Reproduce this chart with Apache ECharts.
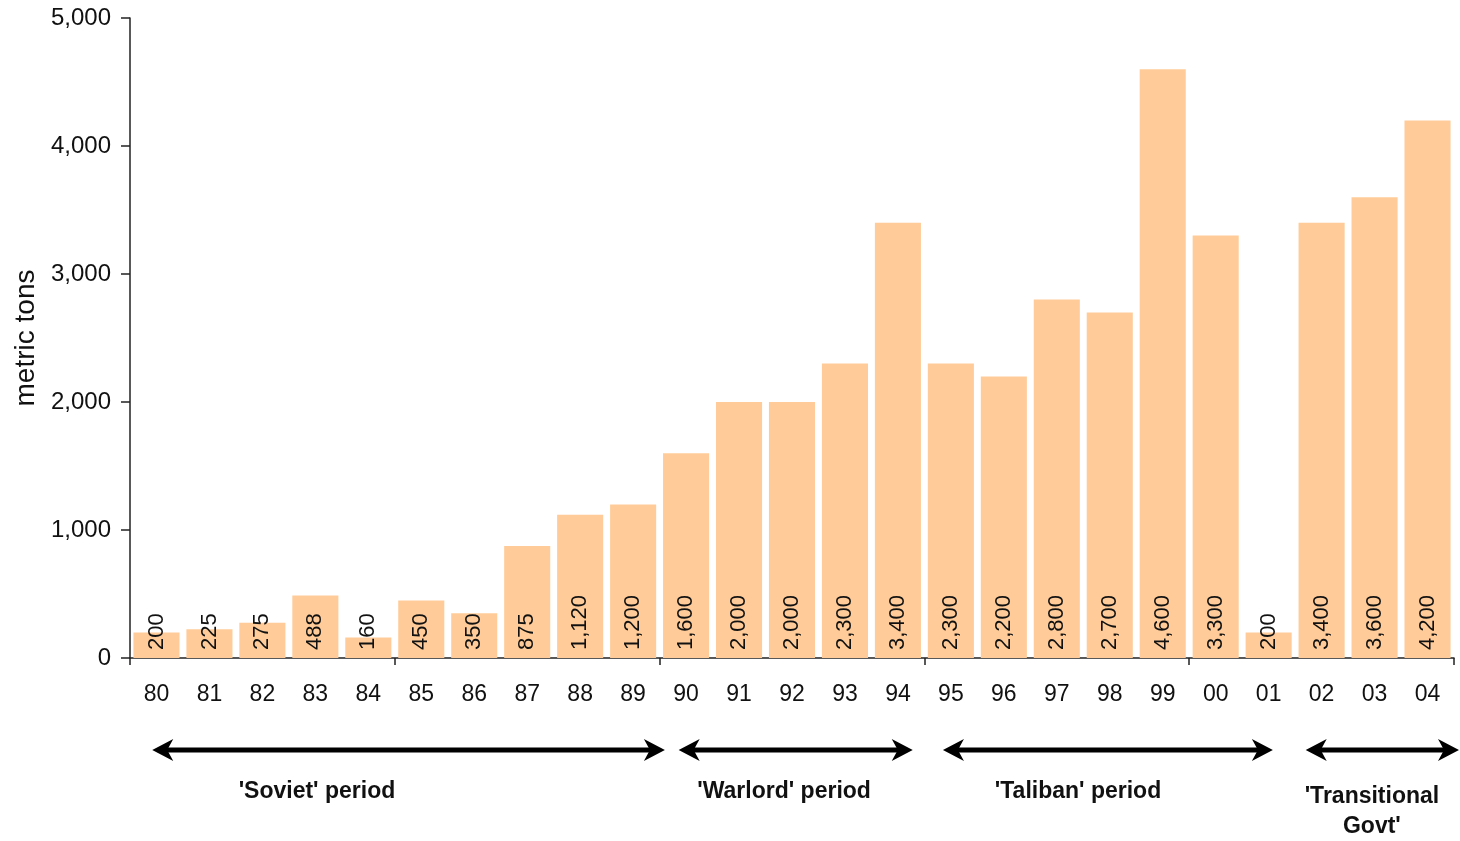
<!DOCTYPE html>
<html>
<head>
<meta charset="utf-8">
<script src="https://cdn.jsdelivr.net/npm/echarts@6/dist/echarts.min.js"></script>
<style>
  html, body { margin: 0; padding: 0; background: #fff; }
  #chart { width: 1460px; height: 841px; }
</style>
</head>
<body>
<div id="chart"></div>
<script>
// Opium production, metric tons, by year
const years = ['80', '81', '82', '83', '84', '85', '86', '87', '88', '89', '90', '91', '92',
  '93', '94', '95', '96', '97', '98', '99', '00', '01', '02', '03', '04'];
const tons = [200, 225, 275, 488, 160, 450, 350, 875, 1120, 1200, 1600, 2000, 2000,
  2300, 3400, 2300, 2200, 2800, 2700, 4600, 3300, 200, 3400, 3600, 4200];
const yTicks = [0, 1000, 2000, 3000, 4000, 5000];

// Periods: arrow span and label centre, in category units from the left edge
const periodNames = ["'Soviet' period", "'Warlord' period", "'Taliban' period", "'Transitional\nGovt'"];
const periodSpans = [[0.42, 10.1], [10.36, 14.78], [15.35, 21.58], [22.2, 25.15]];
const periodCentres = [3.53, 12.35, 17.9, 23.45];

const font = 'Liberation Sans, Arial, Helvetica, sans-serif';
const gridLeft = 130, gridRight = 6, gridTop = 18, gridBottom = 183;

const chart = echarts.init(document.getElementById('chart'));

chart.setOption({
  animation: false,
  textStyle: { fontFamily: font },
  grid: { left: gridLeft, right: gridRight, top: gridTop, bottom: gridBottom, containLabel: false },
  xAxis: [{
    type: 'category',
    data: years,
    axisLine: { lineStyle: { color: '#222', width: 1.5 } },
    axisTick: { show: false },
    axisLabel: { interval: 0, color: '#111', fontSize: 23, margin: 25, fontFamily: font }
  }, {
    // tick marks every five years, on category boundaries
    type: 'value',
    position: 'bottom',
    min: 0,
    max: years.length,
    interval: 5,
    axisLine: { show: false },
    axisLabel: { show: false },
    splitLine: { show: false },
    axisTick: { show: true, length: 7, lineStyle: { color: '#222', width: 1.5 } }
  }],
  yAxis: {
    type: 'value',
    min: yTicks[0],
    max: yTicks[yTicks.length - 1],
    interval: 1000,
    name: 'metric tons',
    nameLocation: 'middle',
    nameGap: 89,
    nameTextStyle: { color: '#111', fontSize: 28, fontFamily: font },
    splitLine: { show: false },
    axisLine: { show: true, lineStyle: { color: '#222', width: 1.5 } },
    axisTick: { show: true, length: 9, lineStyle: { color: '#222', width: 1.5 } },
    axisLabel: {
      color: '#111', fontSize: 24, margin: 19, fontFamily: font,
      formatter: v => v.toLocaleString('en-US')
    }
  },
  series: [{
    type: 'bar',
    xAxisIndex: 0,
    data: tons,
    barCategoryGap: '13%',
    itemStyle: { color: '#FFCC99' },
    label: {
      show: true,
      position: 'insideBottom',
      rotate: 90,
      align: 'left',
      verticalAlign: 'middle',
      distance: 8,
      color: '#111',
      fontSize: 22,
      fontFamily: font,
      formatter: p => p.value.toLocaleString('en-US')
    }
  }]
});

// Period arrows and labels
function arrowHead(x, y, dir) {
  // dir = 1 points right, -1 points left
  return {
    type: 'polygon',
    shape: { points: [[x, y], [x - dir * 21, y - 11], [x - dir * 15, y], [x - dir * 21, y + 11]] },
    style: { fill: '#000' }
  };
}

const catW = (1460 - gridLeft - gridRight) / years.length;
const arrowY = 750;
const graphics = [];
periodSpans.forEach((span, i) => {
  const x1 = gridLeft + span[0] * catW;
  const x2 = Math.min(gridLeft + span[1] * catW, 1459);
  graphics.push({
    type: 'line',
    shape: { x1: x1 + 14, y1: arrowY, x2: x2 - 14, y2: arrowY },
    style: { stroke: '#000', lineWidth: 5 }
  });
  graphics.push(arrowHead(x1, arrowY, -1));
  graphics.push(arrowHead(x2, arrowY, 1));
  const multi = periodNames[i].indexOf('\n') >= 0;
  graphics.push({
    type: 'text',
    x: gridLeft + periodCentres[i] * catW,
    y: multi ? 782 : 777,
    style: {
      text: periodNames[i],
      fill: '#111',
      font: 'bold 23px ' + font,
      align: 'center',
      verticalAlign: 'top',
      lineHeight: 30
    }
  });
});

chart.setOption({ graphic: graphics });
</script>
</body>
</html>
